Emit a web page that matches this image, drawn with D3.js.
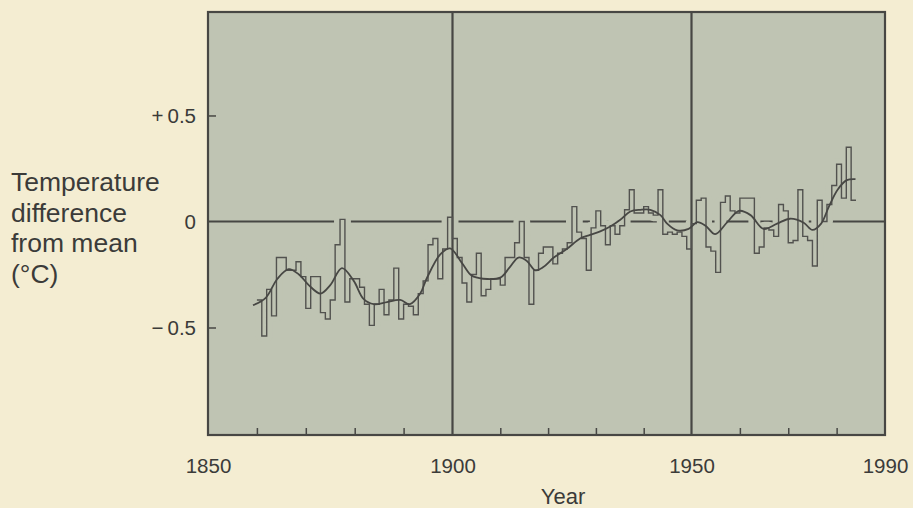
<!DOCTYPE html>
<html><head><meta charset="utf-8">
<script src="https://cdn.jsdelivr.net/npm/d3@7"></script>
<style>
html,body{margin:0;padding:0;background:#f4edd2;}
svg{display:block;}
text{font-family:"Liberation Sans",Arial,Helvetica,sans-serif;}
</style></head><body>
<svg id="chart" width="913" height="508"></svg>
<script>
// ---- data ----
const firstYear = 1861;
const anomalies = [
 -0.37,-0.54,-0.32,-0.445,-0.17,-0.17,-0.23,-0.23,-0.19,-0.26,
 -0.41,-0.26,-0.26,-0.43,-0.46,-0.37,-0.11,0.01,-0.38,-0.27,
 -0.27,-0.31,-0.39,-0.49,-0.39,-0.32,-0.44,-0.37,-0.22,-0.46,
 -0.39,-0.40,-0.44,-0.34,-0.28,-0.11,-0.08,-0.27,-0.13,0.02,
 -0.08,-0.17,-0.29,-0.38,-0.25,-0.15,-0.35,-0.32,-0.27,-0.27,
 -0.30,-0.17,-0.17,-0.10,0.00,-0.17,-0.39,-0.23,-0.15,-0.12,
 -0.12,-0.20,-0.15,-0.13,-0.10,0.07,-0.05,-0.08,-0.23,-0.03,
 0.05,-0.02,-0.11,-0.02,-0.06,-0.02,0.055,0.15,0.04,0.04,
 0.07,0.04,0.03,0.15,-0.06,-0.05,-0.06,-0.05,-0.07,-0.13,
 -0.01,0.10,0.11,-0.12,-0.14,-0.24,0.09,0.12,0.05,0.04,
 0.11,0.11,0.11,-0.15,-0.12,-0.03,-0.04,-0.07,0.08,0.05,
 -0.10,-0.09,0.15,-0.07,-0.09,-0.21,0.10,0.00,0.08,0.17,
 0.27,0.11,0.35,0.10
];
const smoothYears = [
 1859.2,1861.8,1864.2,1866.5,1868.6,1870.6,1873.0,1875.0,1877.4,1879.8,
 1881.8,1883.9,1886.6,1889.3,1891.3,1893.4,1894.7,1897.5,1899.5,
 1902.1,1904.0,1906.4,1910.0,1912.0,1913.8,1915.5,1917.3,1919.0,1921.2,1923.9,
 1926.7,1928.8,1930.9,1933.0,1935.1,1937.2,1939.3,1941.4,1943.5,
 1944.9,1947.0,1949.4,1951.2,1952.9,1954.9,1957.4,1959.8,1962.2,1964.9,
 1967.7,1970.4,1973.2,1975.0,1976.8,1978.4,1980.2,1982.1,1983.9
];
const smoothValues = [
 -0.395,-0.36,-0.27,-0.225,-0.25,-0.30,-0.34,-0.30,-0.22,-0.28,
 -0.365,-0.39,-0.38,-0.37,-0.39,-0.34,-0.27,-0.155,-0.127,
 -0.20,-0.255,-0.27,-0.265,-0.215,-0.17,-0.185,-0.23,-0.215,-0.17,-0.13,
 -0.08,-0.063,-0.047,-0.024,0.008,0.047,0.055,0.055,0.03,
 -0.01,-0.042,-0.035,-0.003,-0.02,-0.06,-0.003,0.05,0.03,-0.035,
 -0.01,0.013,-0.006,-0.04,-0.01,0.07,0.15,0.195,0.20
];
const xTickLabels = [1850, 1900, 1950, 1990];
const xMinorTicks = [1860,1870,1880,1890,1910,1920,1930,1940,1960,1970,1980];
const gridYears = [1900, 1950];
const yTickValues = [0.5, 0, -0.5];
const yTickText = ["+\u20090.5", "0", "\u2212\u20090.5"];
const yInnerTicks = [0.5, -0.5];
const yTitle = ["Temperature", "difference", "from mean", "(\u00B0C)"];
const xTitle = "Year";

// ---- style ----
const plotFill = "#bfc4b3";
const ink = "#474744";
const textInk = "#3b3b39";
const fontFam = '"Liberation Sans", Arial, Helvetica, sans-serif';

const svg = d3.select("#chart");
const x = d3.scaleLinear().domain([1850, 1900, 1950, 1990]).range([208, 452.5, 691.5, 885]);
const y = d3.scaleLinear().domain([-1.007, 0.988]).range([435, 12]);

const [x0, x1] = [x(1850), x(1990)];
const [yb, yt] = y.range();

// plot background
svg.append("rect").attr("x", x0).attr("y", yt).attr("width", x1 - x0).attr("height", yb - yt)
  .attr("fill", plotFill);

// zero (mean) line
svg.append("line").attr("x1", x0).attr("x2", x1).attr("y1", y(0)).attr("y2", y(0))
  .attr("stroke", ink).attr("stroke-width", 2.2);

// annual steps
const stepPts = anomalies.map((v, i) => [firstYear + i - 1, v]);
stepPts.push([firstYear + anomalies.length - 1, anomalies[anomalies.length - 1]]);
const stepLine = d3.line().x(d => x(d[0])).y(d => y(d[1])).curve(d3.curveStepAfter);

// knock-out halo (breaks the mean line where the annual series touches it)
svg.append("path").attr("d", stepLine(stepPts)).attr("fill", "none")
  .attr("stroke", plotFill).attr("stroke-width", 12).attr("stroke-linejoin", "round");

// vertical reference lines
svg.selectAll("line.grid").data(gridYears).join("line").attr("class", "grid")
  .attr("x1", d => x(d)).attr("x2", d => x(d)).attr("y1", yt).attr("y2", yb)
  .attr("stroke", ink).attr("stroke-width", 2.2);

svg.append("path").attr("d", stepLine(stepPts)).attr("fill", "none")
  .attr("stroke", "#52524f").attr("stroke-width", 1.4);

// smoothed curve
const smoothPts = smoothYears.map((yr, i) => [yr, smoothValues[i]]);
svg.append("path")
  .attr("d", d3.line().x(d => x(d[0])).y(d => y(d[1])).curve(d3.curveCatmullRom.alpha(0.5))(smoothPts))
  .attr("fill", "none").attr("stroke", ink).attr("stroke-width", 1.8);

// inner ticks bottom
const gMinor = svg.append("g").attr("transform", `translate(0,${yb})`)
  .call(d3.axisTop(x).tickValues(xMinorTicks).tickSize(7).tickFormat(""));
gMinor.select(".domain").remove();
gMinor.selectAll("line").attr("stroke", ink).attr("stroke-width", 1.5);

// inner ticks left
const gYin = svg.append("g").attr("transform", `translate(${x0},0)`)
  .call(d3.axisRight(y).tickValues(yInnerTicks).tickSize(8).tickFormat(""));
gYin.select(".domain").remove();
gYin.selectAll("line").attr("stroke", ink).attr("stroke-width", 1.5);

// frame
svg.append("rect").attr("x", x0).attr("y", yt).attr("width", x1 - x0).attr("height", yb - yt)
  .attr("fill", "none").attr("stroke", ink).attr("stroke-width", 2.2);

// x labels
const gx = svg.append("g").attr("transform", `translate(0,${yb})`)
  .call(d3.axisBottom(x).tickValues(xTickLabels).tickSize(0).tickPadding(23).tickFormat(d3.format("d")));
gx.select(".domain").remove();
gx.attr("font-size", 20.5).attr("font-family", fontFam).attr("color", textInk);

// y labels
const gy = svg.append("g").attr("transform", `translate(${x0},0)`)
  .call(d3.axisLeft(y).tickValues(yTickValues).tickSize(0).tickPadding(12)
    .tickFormat((d, i) => yTickText[i]));
gy.select(".domain").remove();
gy.attr("font-size", 20.5).attr("font-family", fontFam).attr("color", textInk);

// titles
svg.append("g").selectAll("text").data(yTitle).join("text")
  .attr("x", 11).attr("y", (d, i) => 191 + i * 30.5)
  .attr("font-size", 26.5).attr("fill", textInk).text(d => d);

svg.append("text").attr("x", 563).attr("y", 504).attr("text-anchor", "middle")
  .attr("font-size", 22).attr("fill", textInk).text(xTitle);
</script>
</body></html>
